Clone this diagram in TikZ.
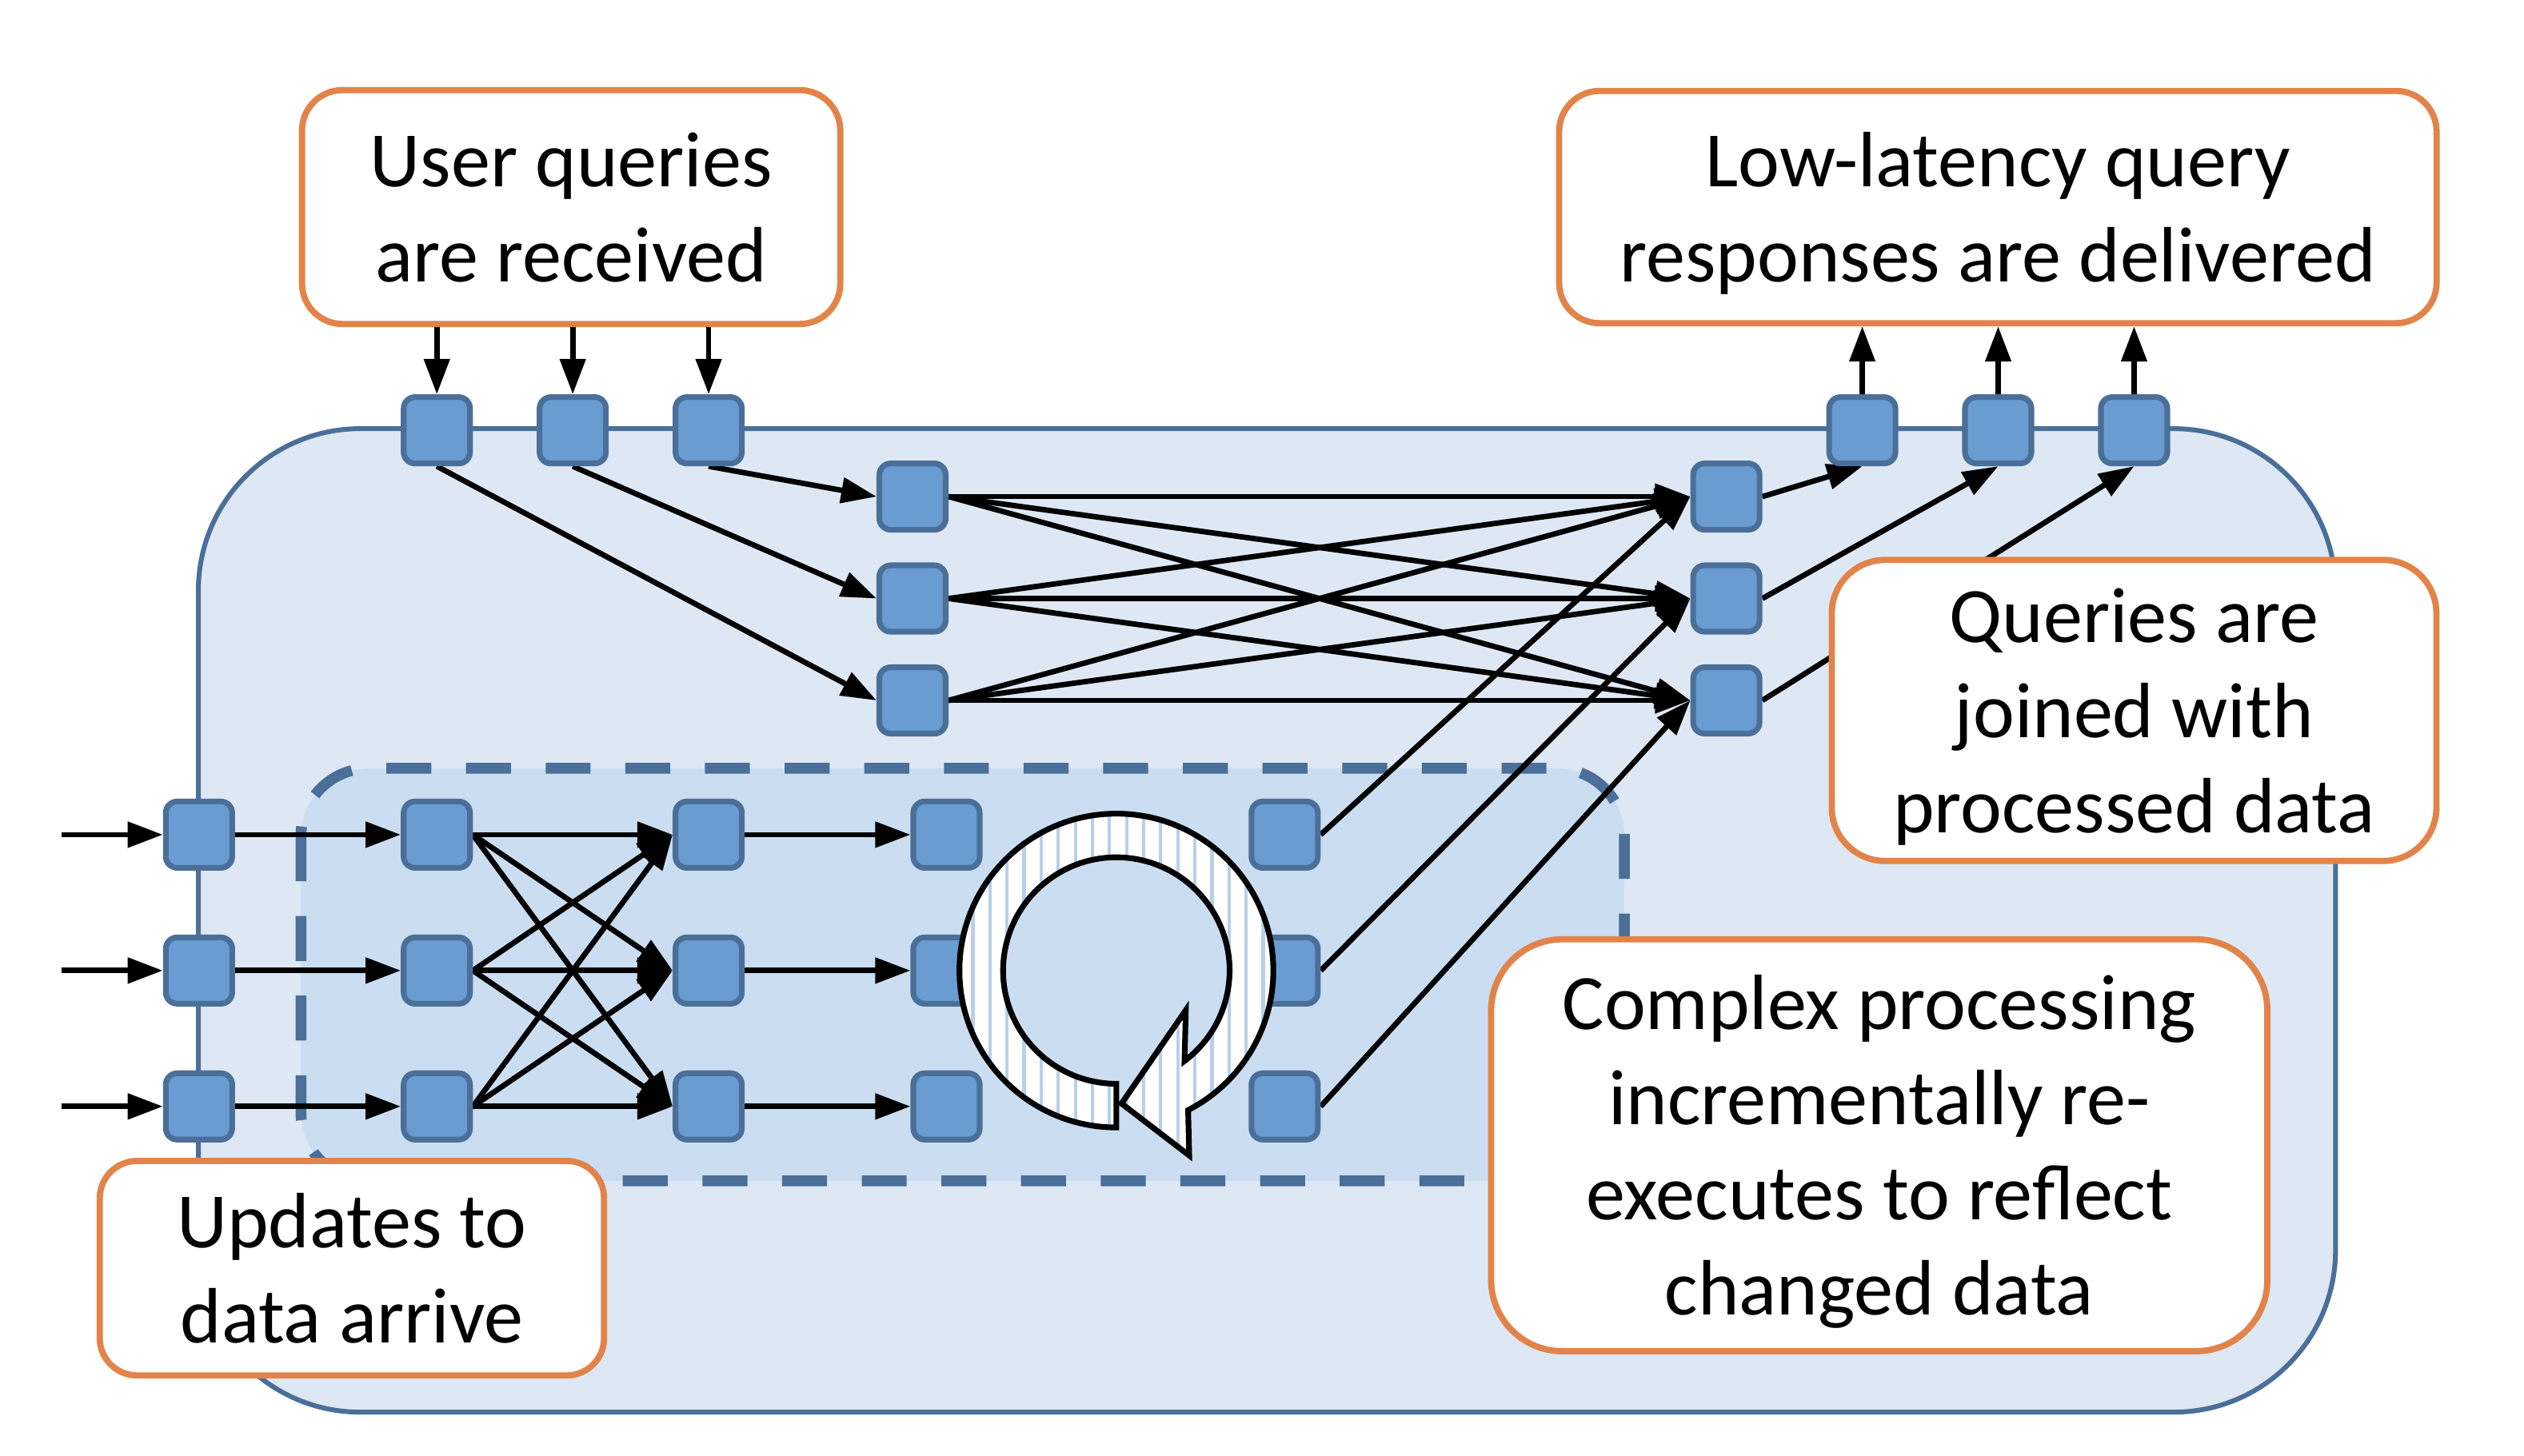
\documentclass[tikz,border=0pt]{standalone}
\usepackage{fontspec}
\setmainfont{Carlito}
\usetikzlibrary{arrows.meta,patterns.meta}
\definecolor{bigfill}{HTML}{DEE8F4}
\definecolor{dashfill}{HTML}{CBDDF0}
\definecolor{sqfill}{HTML}{6A9BD1}
\definecolor{sqline}{HTML}{4A6F99}
\definecolor{orangeline}{HTML}{E2844A}
\definecolor{stripe}{HTML}{B8CFEA}
\pgfdeclarelayer{bglayer}
\pgfdeclarelayer{connlayer}
\pgfdeclarelayer{toplayer}
\pgfsetlayers{bglayer,connlayer,main,toplayer}
\newcommand\notefont{\fontsize{13.8pt}{16.7pt}\selectfont}
\newcommand\tstr{\rule{0pt}{13pt}}
\newcommand\bstr{\rule[-3.5pt]{0pt}{3.5pt}}
\tikzset{
  sq/.style={draw=sqline, fill=sqfill, line width=1pt, rounded corners=2pt,
    minimum size=0.41cm, inner sep=0pt},
  arr/.style={draw=black, line width=0.95pt, -{Triangle[length=6.2pt,width=4.4pt]}},
  note/.style={draw=orangeline, fill=white, line width=1.1pt, align=center,
    inner sep=0pt, font=\notefont},
  loopst/.style={draw=black, line width=1pt, preaction={fill=white},
    pattern={Lines[angle=90, distance=3pt, line width=0.6pt]}, pattern color=stripe},
}
\begin{document}
\begin{tikzpicture}[x=0.01cm, y=-0.01cm]
\useasboundingbox (0,0) rectangle (1560,900);

% squares: top inputs, outputs, join stages
\node[sq] (q1) at (270,266) {};
\node[sq] (q2) at (354,266) {};
\node[sq] (q3) at (438,266) {};
\node[sq] (r1) at (1151,266) {};
\node[sq] (r2) at (1235,266) {};
\node[sq] (r3) at (1319,266) {};
\node[sq] (ja1) at (564,307) {};
\node[sq] (ja2) at (564,370) {};
\node[sq] (ja3) at (564,433) {};
\node[sq] (jb1) at (1067,307) {};
\node[sq] (jb2) at (1067,370) {};
\node[sq] (jb3) at (1067,433) {};
% squares: processing stages
\foreach \r/\y in {1/516,2/600,3/684}{
  \node[sq] (u\r) at (123,\y) {};
  \node[sq] (v\r) at (270,\y) {};
  \node[sq] (w\r) at (438,\y) {};
  \node[sq] (p\r) at (585,\y) {};
  \node[sq] (t\r) at (794,\y) {};
  \coordinate (s\r) at (38,\y);
}

% orange notes
\begin{pgfonlayer}{toplayer}
\node[note, rounded corners=0.25cm, minimum width=3.325cm, minimum height=1.445cm]
  (b1) at (353,128) {\tstr User queries\\are received\bstr};
\node[note, rounded corners=0.25cm, minimum width=5.42cm, minimum height=1.435cm]
  (b2) at (1234.8,128) {\tstr Low-latency query\\responses are delivered\bstr};
\node[note, rounded corners=0.33cm, minimum width=3.735cm, minimum height=1.86cm]
  (b3) at (1319,439.2) {\tstr Queries are\\joined with\\processed data\bstr};
\node[note, rounded corners=0.44cm, minimum width=4.795cm, minimum height=2.545cm]
  (b4) at (1161.5,708) {\tstr Complex processing\\incrementally re-\\executes to reflect\\changed data\bstr};
\node[note, rounded corners=0.23cm, minimum width=3.115cm, minimum height=1.325cm]
  (b5) at (217.5,784) {\tstr Updates to\\data arrive\bstr};
\end{pgfonlayer}

% containers
\begin{pgfonlayer}{bglayer}
\draw[fill=bigfill, draw=sqline, line width=0.85pt, rounded corners=1cm]
  (122.6,265) rectangle (1443.5,873);
\draw[fill=dashfill, draw=sqline, line width=1.9pt, dash pattern=on 7.9pt off 6.1pt,
  rounded corners=0.42cm] (186,475) rectangle (1004,730);
\end{pgfonlayer}

% connectors
\begin{pgfonlayer}{connlayer}
\foreach \q in {q1,q2,q3} \draw[arr] (b1.south -| \q) -- (\q.north);
\draw[arr] (q1.south) -- (ja3.west);
\draw[arr] (q2.south) -- (ja2.west);
\draw[arr] (q3.south) -- (ja1.west);
\foreach \i in {1,2,3}{
  \foreach \j in {1,2,3}{
    \draw[arr] (ja\i.east) -- (jb\j.west);
    \draw[arr] (v\i.east) -- (w\j.west);
  }
  \draw[arr] (t\i.east) -- (jb\i.west);
  \draw[arr] (jb\i.east) -- (r\i.south);
  \draw[arr] (r\i.north) -- (r\i.north |- b2.south);
  \draw[arr] (s\i) -- (u\i.west);
  \draw[arr] (u\i.east) -- (v\i.west);
  \draw[arr] (w\i.east) -- (p\i.west);
}
\end{pgfonlayer}

% circular arrow
\draw[loopst] (690,697) arc[start angle=90, end angle=422.8, radius=97]
  -- (735,714.3) -- (693.2,682.2) -- (732.9,624.5) -- (732.1,655.9)
  arc[start angle=413, end angle=90, radius=70] -- cycle;
\end{tikzpicture}
\end{document}
